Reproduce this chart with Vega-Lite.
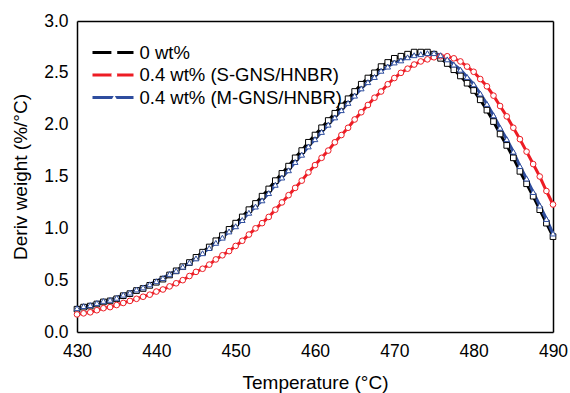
{
  "$schema": "https://vega.github.io/schema/vega-lite/v6.json",
  "width": 476,
  "height": 311,
  "autosize": {"type": "none"},
  "padding": {"left": 77, "top": 21, "right": 17, "bottom": 61},
  "background": "white",
  "config": {
    "view": {"stroke": null},
    "font": "Liberation Sans",
    "axis": {
      "grid": false,
      "domainColor": "black",
      "domainWidth": 1.5,
      "tickColor": "black",
      "tickWidth": 1.3,
      "labelColor": "black",
      "titleColor": "black",
      "labelFont": "Liberation Sans",
      "titleFont": "Liberation Sans",
      "labelFontSize": 17.5,
      "titleFontSize": 19,
      "titleFontWeight": "normal",
      "labelOverlap": false,
      "labelFlush": false
    }
  },
  "data": {
    "values": [
      {"T": 430, "a": 0.22, "b": 0.17, "c": 0.23},
      {"T": 430.83, "a": 0.24, "b": 0.18, "c": 0.25},
      {"T": 431.67, "a": 0.25, "b": 0.19, "c": 0.26},
      {"T": 432.5, "a": 0.27, "b": 0.21, "c": 0.28},
      {"T": 433.33, "a": 0.29, "b": 0.23, "c": 0.30},
      {"T": 434.17, "a": 0.30, "b": 0.24, "c": 0.31},
      {"T": 435, "a": 0.32, "b": 0.26, "c": 0.33},
      {"T": 435.83, "a": 0.35, "b": 0.28, "c": 0.36},
      {"T": 436.67, "a": 0.37, "b": 0.30, "c": 0.38},
      {"T": 437.5, "a": 0.40, "b": 0.32, "c": 0.41},
      {"T": 438.33, "a": 0.42, "b": 0.34, "c": 0.43},
      {"T": 439.17, "a": 0.45, "b": 0.36, "c": 0.46},
      {"T": 440, "a": 0.48, "b": 0.39, "c": 0.49},
      {"T": 440.83, "a": 0.51, "b": 0.41, "c": 0.52},
      {"T": 441.67, "a": 0.55, "b": 0.44, "c": 0.56},
      {"T": 442.5, "a": 0.59, "b": 0.47, "c": 0.59},
      {"T": 443.33, "a": 0.63, "b": 0.50, "c": 0.63},
      {"T": 444.17, "a": 0.67, "b": 0.54, "c": 0.67},
      {"T": 445, "a": 0.72, "b": 0.58, "c": 0.71},
      {"T": 445.83, "a": 0.77, "b": 0.61, "c": 0.76},
      {"T": 446.67, "a": 0.82, "b": 0.65, "c": 0.81},
      {"T": 447.5, "a": 0.88, "b": 0.70, "c": 0.86},
      {"T": 448.33, "a": 0.93, "b": 0.74, "c": 0.91},
      {"T": 449.17, "a": 0.99, "b": 0.78, "c": 0.97},
      {"T": 450, "a": 1.05, "b": 0.83, "c": 1.02},
      {"T": 450.83, "a": 1.11, "b": 0.88, "c": 1.08},
      {"T": 451.67, "a": 1.18, "b": 0.94, "c": 1.15},
      {"T": 452.5, "a": 1.24, "b": 1.00, "c": 1.21},
      {"T": 453.33, "a": 1.31, "b": 1.05, "c": 1.27},
      {"T": 454.17, "a": 1.38, "b": 1.11, "c": 1.34},
      {"T": 455, "a": 1.46, "b": 1.18, "c": 1.42},
      {"T": 455.83, "a": 1.53, "b": 1.25, "c": 1.49},
      {"T": 456.67, "a": 1.60, "b": 1.32, "c": 1.56},
      {"T": 457.5, "a": 1.68, "b": 1.39, "c": 1.64},
      {"T": 458.33, "a": 1.75, "b": 1.46, "c": 1.71},
      {"T": 459.17, "a": 1.83, "b": 1.54, "c": 1.79},
      {"T": 460, "a": 1.90, "b": 1.61, "c": 1.86},
      {"T": 460.83, "a": 1.97, "b": 1.68, "c": 1.93},
      {"T": 461.67, "a": 2.04, "b": 1.75, "c": 2.00},
      {"T": 462.5, "a": 2.11, "b": 1.83, "c": 2.07},
      {"T": 463.33, "a": 2.18, "b": 1.90, "c": 2.14},
      {"T": 464.17, "a": 2.25, "b": 1.97, "c": 2.21},
      {"T": 465, "a": 2.32, "b": 2.05, "c": 2.28},
      {"T": 465.83, "a": 2.39, "b": 2.12, "c": 2.35},
      {"T": 466.67, "a": 2.45, "b": 2.19, "c": 2.41},
      {"T": 467.5, "a": 2.50, "b": 2.26, "c": 2.46},
      {"T": 468.33, "a": 2.56, "b": 2.32, "c": 2.52},
      {"T": 469.17, "a": 2.60, "b": 2.39, "c": 2.56},
      {"T": 470, "a": 2.64, "b": 2.45, "c": 2.60},
      {"T": 470.83, "a": 2.66, "b": 2.50, "c": 2.62},
      {"T": 471.67, "a": 2.68, "b": 2.54, "c": 2.65},
      {"T": 472.5, "a": 2.70, "b": 2.58, "c": 2.67},
      {"T": 473.33, "a": 2.70, "b": 2.61, "c": 2.68},
      {"T": 474.17, "a": 2.70, "b": 2.63, "c": 2.69},
      {"T": 475, "a": 2.68, "b": 2.65, "c": 2.69},
      {"T": 475.83, "a": 2.64, "b": 2.66, "c": 2.67},
      {"T": 476.67, "a": 2.59, "b": 2.66, "c": 2.63},
      {"T": 477.5, "a": 2.53, "b": 2.64, "c": 2.58},
      {"T": 478.33, "a": 2.47, "b": 2.61, "c": 2.53},
      {"T": 479.17, "a": 2.40, "b": 2.56, "c": 2.46},
      {"T": 480, "a": 2.33, "b": 2.51, "c": 2.39},
      {"T": 480.83, "a": 2.24, "b": 2.44, "c": 2.30},
      {"T": 481.67, "a": 2.14, "b": 2.37, "c": 2.20},
      {"T": 482.5, "a": 2.03, "b": 2.28, "c": 2.09},
      {"T": 483.33, "a": 1.91, "b": 2.18, "c": 1.97},
      {"T": 484.17, "a": 1.80, "b": 2.08, "c": 1.86},
      {"T": 485, "a": 1.68, "b": 1.97, "c": 1.74},
      {"T": 485.83, "a": 1.55, "b": 1.86, "c": 1.60},
      {"T": 486.67, "a": 1.43, "b": 1.74, "c": 1.48},
      {"T": 487.5, "a": 1.31, "b": 1.62, "c": 1.35},
      {"T": 488.33, "a": 1.18, "b": 1.50, "c": 1.22},
      {"T": 489.17, "a": 1.05, "b": 1.36, "c": 1.09},
      {"T": 490, "a": 0.92, "b": 1.23, "c": 0.95}
    ]
  },
  "transform": [{"fold": ["a", "b", "c"], "as": ["series", "v"]}],
  "layer": [
    {
      "mark": {"type": "line", "strokeWidth": 3},
      "encoding": {
        "x": {
          "field": "T", "type": "quantitative",
          "scale": {"domain": [430, 490], "nice": false, "zero": false},
          "axis": {
            "orient": "bottom",
            "values": [430, 435, 440, 445, 450, 455, 460, 465, 470, 475, 480, 485, 490],
            "format": "d",
            "labelExpr": "datum.value % 10 === 0 ? datum.label : ''",
            "tickSize": 0,
            "labelPadding": 10,
            "title": "Temperature (°C)",
            "titlePadding": 14,
            "encode": {"ticks": {"update": {"y2": {"signal": "datum.value % 10 === 0 ? -7 : -4"}}}}
          }
        },
        "y": {
          "field": "v", "type": "quantitative",
          "scale": {"domain": [0, 3], "nice": false},
          "axis": {
            "orient": "left",
            "values": [0, 0.25, 0.5, 0.75, 1, 1.25, 1.5, 1.75, 2, 2.25, 2.5, 2.75, 3],
            "labelExpr": "datum.value % 0.5 === 0 ? format(datum.value, '.1f') : ''",
            "tickSize": 0,
            "labelPadding": 9,
            "title": "Deriv weight (%/°C)",
            "titlePadding": 13,
            "encode": {"ticks": {"update": {"x2": {"signal": "datum.value % 0.5 === 0 ? 7 : 4"}}}}
          }
        },
        "color": {
          "field": "series", "type": "nominal",
          "scale": {"domain": ["a", "b", "c"], "range": ["#000000", "#ed1c24", "#2e4d9e"]},
          "legend": {
            "title": null,
            "orient": "none",
            "legendX": 13.5,
            "legendY": 21.5,
            "padding": 0,
            "symbolType": "stroke",
            "symbolSize": 1681,
            "symbolStrokeWidth": 3.2,
            "clipHeight": 20,
            "rowPadding": 2.5,
            "labelFont": "Liberation Sans",
            "labelFontSize": 18.5,
            "labelColor": "black",
            "labelOffset": 4,
            "labelLimit": 400,
            "labelExpr": "datum.label === 'a' ? '0 wt%' : datum.label === 'b' ? '0.4 wt% (S-GNS/HNBR)' : '0.4 wt% (M-GNS/HNBR)'"
          }
        }
      }
    },
    {
      "mark": {"type": "point", "filled": false, "fill": "white", "size": 32, "strokeWidth": 1, "opacity": 1},
      "encoding": {
        "x": {
          "field": "T", "type": "quantitative",
          "axis": {
            "orient": "top",
            "values": [430, 435, 440, 445, 450, 455, 460, 465, 470, 475, 480, 485, 490],
            "labels": false,
            "tickSize": 0,
            "title": null,
            "encode": {"ticks": {"update": {"y2": {"signal": "datum.value % 10 === 0 ? 7 : 4"}}}}
          }
        },
        "y": {
          "field": "v", "type": "quantitative",
          "axis": {
            "orient": "right",
            "values": [0, 0.25, 0.5, 0.75, 1, 1.25, 1.5, 1.75, 2, 2.25, 2.5, 2.75, 3],
            "labels": false,
            "tickSize": 0,
            "title": null,
            "encode": {"ticks": {"update": {"x2": {"signal": "datum.value % 0.5 === 0 ? -7 : -4"}}}}
          }
        },
        "color": {"field": "series", "type": "nominal", "legend": null},
        "shape": {
          "field": "series", "type": "nominal",
          "scale": {"range": ["square", "circle", "triangle-up"]},
          "legend": {
            "title": null,
            "orient": "none",
            "legendX": 32.3,
            "legendY": 21.5,
            "padding": 0,
            "symbolSize": 34,
            "symbolStrokeWidth": 1.3,
            "symbolFillColor": "white",
            "clipHeight": 20,
            "rowPadding": 2.5,
            "labelOpacity": 0,
            "encode": {
              "symbols": {
                "update": {
                  "stroke": {"signal": "scale('color', datum.value)"},
                  "strokeOpacity": {"value": 1},
                  "strokeWidth": {"value": 1.3},
                  "fill": {"value": "white"},
                  "fillOpacity": {"value": 1},
                  "opacity": {"value": 1}
                }
              }
            }
          }
        }
      }
    }
  ],
  "resolve": {"axis": {"x": "independent", "y": "independent"}}
}
